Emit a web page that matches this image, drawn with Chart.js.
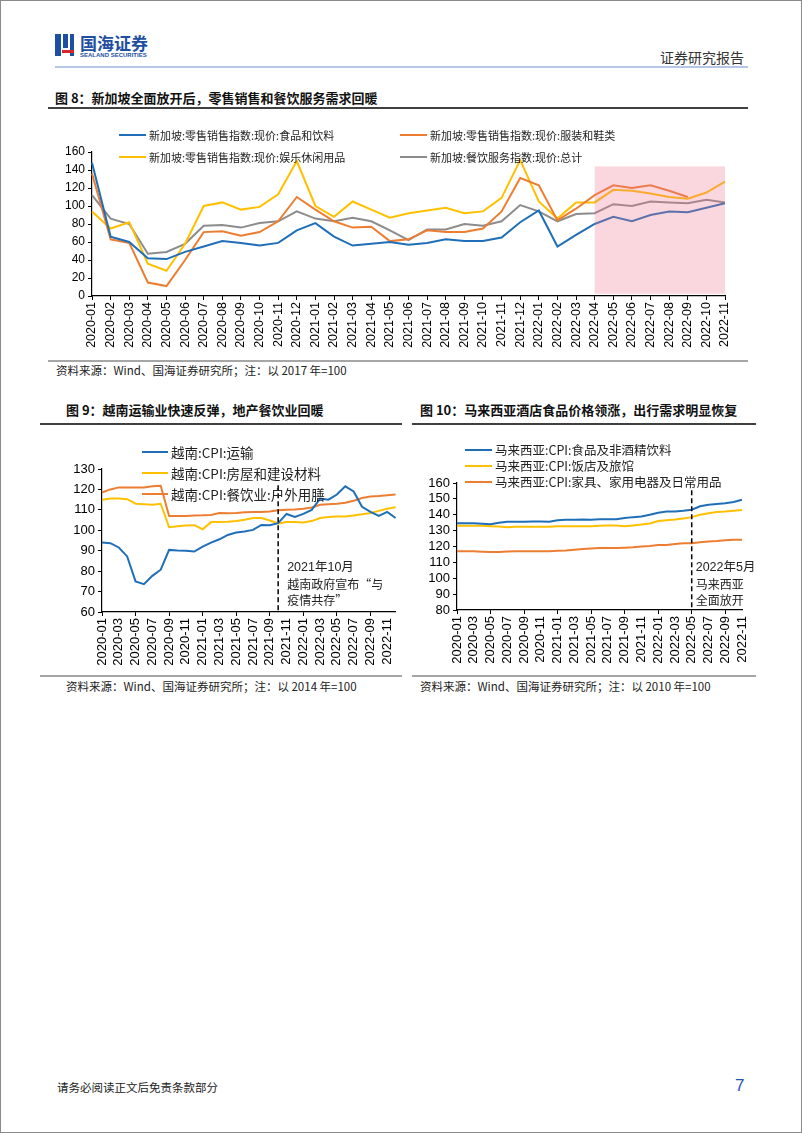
<!DOCTYPE html>
<html><head><meta charset="utf-8">
<script src="https://cdn.jsdelivr.net/npm/chart.js@4.4.0/dist/chart.umd.min.js"></script>
<style>
html,body{margin:0;padding:0;background:#fff;}
body{width:802px;height:1133px;position:relative;overflow:hidden;font-family:"Noto Sans CJK SC",sans-serif;color:#222;}
#frame{position:absolute;left:0;top:0;width:800px;height:1131px;border:1px solid #8a8a8a;}
.abs{position:absolute;white-space:nowrap;}
.hr{position:absolute;}
.title{position:absolute;font-weight:700;font-size:13px;color:#111;white-space:nowrap;line-height:16px;}
.src{position:absolute;font-size:11.5px;color:#222;white-space:nowrap;line-height:14px;}
canvas{position:absolute;}
</style></head>
<body>
<div id="frame"></div>
<!-- header -->
<div class="abs" style="left:55px;top:34px;width:6px;height:22px;background:#1e4fa0;"></div>
<div class="abs" style="left:63px;top:34px;width:5px;height:14px;background:#1e4fa0;"></div>
<div class="abs" style="left:70px;top:34px;width:4px;height:22px;background:#1e4fa0;"></div>
<div class="abs" style="left:62px;top:50px;width:12px;height:3px;background:#d9262b;"></div>
<div class="abs" style="left:80px;top:33px;font-size:17px;font-weight:700;color:#1e4fa0;line-height:20px;">国海证券</div>
<div class="abs" style="left:80px;top:52px;font-size:6px;font-weight:700;color:#1e4fa0;line-height:7px;font-family:'Liberation Sans',sans-serif;">SEALAND SECURITIES</div>
<div class="abs" style="left:660px;top:48px;font-size:14px;color:#333;line-height:18px;">证券研究报告</div>
<div class="hr" style="left:55px;top:66px;width:693px;height:2px;background:#b4c7e7;"></div>

<div class="title" style="left:55px;top:90px;">图 8：新加坡全面放开后，零售销售和餐饮服务需求回暖</div>
<div class="hr" style="left:48px;top:107px;width:700px;height:2px;background:#404040;"></div>
<canvas id="c8" width="700" height="240" style="left:48px;top:120px;"></canvas>
<div class="hr" style="left:48px;top:360px;width:700px;height:2px;background:#a6a6a6;"></div>
<div class="src" style="left:56px;top:363px;">资料来源：Wind、国海证券研究所；注：以 2017 年=100</div>

<div class="title" style="left:66px;top:402px;">图 9：越南运输业快速反弹，地产餐饮业回暖</div>
<div class="hr" style="left:40px;top:423px;width:362px;height:2px;background:#404040;"></div>
<div class="title" style="left:420px;top:402px;">图 10：马来西亚酒店食品价格领涨，出行需求明显恢复</div>
<div class="hr" style="left:412px;top:423px;width:344px;height:2px;background:#404040;"></div>
<canvas id="c9" width="365" height="245" style="left:40px;top:430px;"></canvas>
<canvas id="c10" width="350" height="245" style="left:410px;top:430px;"></canvas>
<div class="hr" style="left:40px;top:675px;width:362px;height:2px;background:#a6a6a6;"></div>
<div class="hr" style="left:412px;top:675px;width:344px;height:2px;background:#a6a6a6;"></div>
<div class="src" style="left:66px;top:679px;">资料来源：Wind、国海证券研究所；注：以 2014 年=100</div>
<div class="src" style="left:420px;top:679px;">资料来源：Wind、国海证券研究所；注：以 2010 年=100</div>

<div class="abs" style="left:57px;top:1079px;font-size:11.5px;color:#222;line-height:16px;">请务必阅读正文后免责条款部分</div>
<div class="abs" style="left:735px;top:1076px;font-size:17px;color:#1f56b0;line-height:20px;font-family:'Liberation Sans',sans-serif;">7</div>

<script>
// ---------- Figure 8 data ----------
const sgMonths = ["2020-01","2020-02","2020-03","2020-04","2020-05","2020-06","2020-07","2020-08","2020-09","2020-10","2020-11","2020-12",
"2021-01","2021-02","2021-03","2021-04","2021-05","2021-06","2021-07","2021-08","2021-09","2021-10","2021-11","2021-12",
"2022-01","2022-02","2022-03","2022-04","2022-05","2022-06","2022-07","2022-08","2022-09","2022-10","2022-11"];
const sgNames = ["新加坡:零售销售指数:现价:食品和饮料","新加坡:零售销售指数:现价:服装和鞋类","新加坡:零售销售指数:现价:娱乐休闲用品","新加坡:餐饮服务指数:现价:总计"];
const sgFood    = [148,66,60,42,41,49,55,61,59,56,59,73, 81,66,56,58,60,57,59,63,61,61,65,82, 95,55,68,80,88,83,90,94,93,98,103];
const sgApparel = [136,63,59,15,11,40,71,72,67,71,83,110, 96,83,76,77,61,63,73,71,71,75,94,131, 123,84,97,112,123,120,123,117,110,null,null];
const sgLeisure = [94,75,82,36,28,58,100,104,96,99,113,150, 100,88,105,96,87,92,95,98,92,94,109,151, 105,86,104,104,118,117,114,110,108,115,127];
const sgFnb     = [112,86,80,47,49,58,78,79,76,81,83,94, 86,83,87,83,73,62,74,74,80,78,83,101, 94,83,91,92,102,100,105,104,103,107,104];
const sgShadeFrom = "2022-04", sgShadeTo = "2022-11", sgShadeTop = 144;

// ---------- Figure 9 data ----------
const vnMonths = ["2020-01","2020-02","2020-03","2020-04","2020-05","2020-06","2020-07","2020-08","2020-09","2020-10","2020-11","2020-12",
"2021-01","2021-02","2021-03","2021-04","2021-05","2021-06","2021-07","2021-08","2021-09","2021-10","2021-11","2021-12",
"2022-01","2022-02","2022-03","2022-04","2022-05","2022-06","2022-07","2022-08","2022-09","2022-10","2022-11","2022-12"];
const vnNames = ["越南:CPI:运输","越南:CPI:房屋和建设材料","越南:CPI:餐饮业:户外用膳"];
const vnTransport = [94,93.7,91.6,87.2,75,73.6,77.7,80.7,90.4,90.1,90,89.6, 92,94,95.6,97.7,98.9,99.4,100.2,102.6,102.5,103.5, 108,106.5,108,110,115.5,115,117.5,121.5,119,111.5,109,107,109,106];
const vnHousing   = [115,115.5,115.5,115.2,113,112.8,112.5,113,101.5,102,102.3,102.5, 100.5,104,104,104.2,104.5,105.2,106,106,104.8, 103.3,104,104,103.8,104.5,106,106.5,106.8,106.8,107.2,107.8,108.5,109.5,110.5,111.3];
const vnDining    = [118.5,120,121,121,121,121,121.5,121.8,107,107,107,107.2, 107.3,107.5,108.5,108.3,108.5,108.8,109,109,109.2,109.8, 110,110.2,110.5,111.2,112.5,112.8,113,113.5,114.5,115.8,116.5,116.8,117.2,117.5];
const vnEventMonth = "2021-10";
const vnNote = ["2021年10月","越南政府宣布“与","疫情共存”"];

// ---------- Figure 10 data ----------
const myMonths = ["2020-01","2020-02","2020-03","2020-04","2020-05","2020-06","2020-07","2020-08","2020-09","2020-10","2020-11","2020-12",
"2021-01","2021-02","2021-03","2021-04","2021-05","2021-06","2021-07","2021-08","2021-09","2021-10","2021-11","2021-12",
"2022-01","2022-02","2022-03","2022-04","2022-05","2022-06","2022-07","2022-08","2022-09","2022-10","2022-11"];
const myNames = ["马来西亚:CPI:食品及非酒精饮料","马来西亚:CPI:饭店及旅馆","马来西亚:CPI:家具、家用电器及日常用品"];
const myFood = [134.7,134.7,134.7,134.3,134,135,135.6,135.6,135.6,135.8,135.8,135.6, 136.6,136.8,136.8,137,136.8,137.2,137.2,137.2,137.9,138.5,138.9,140, 141.3,142.1,142.1,142.5,143.2,145.3,146.3,146.7,147.2,148,149.5];
const myRest = [133,133,133,133,132.8,132.6,132.2,132.4,132.5,132.5,132.5,132.5, 132.7,132.8,132.8,132.8,132.8,133,133.2,133.2,132.8,133.3,133.8,134.5, 136,136.5,137,137.7,138.5,140,141,141.7,142,142.5,143];
const myHome = [117,117,117,116.7,116.5,116.6,116.8,117,117,117,117,117, 117.3,117.5,118,118.4,118.8,119,119,119,119.2,119.5,120,120.3, 121,121,121.5,122,122,122.7,123.2,123.5,124,124.2,124.2];
const myEventMonth = "2022-05";
const myNote = ["2022年5月","马来西亚","全面放开"];

// ---------- styling ----------
const BLUE = "#1f6fb8", ORANGE = "#ed7d31", YELLOW = "#ffc000", GRAY = "#8c8c8c";
const NUMFONT = "'Liberation Sans', Arial, sans-serif";
const CJK = "'Noto Sans CJK SC', sans-serif";

function ds(label, data, color){
  return {label, data, borderColor: color, backgroundColor: color, borderWidth: 2,
    pointRadius: 0, tension: 0, spanGaps: false};
}

function overlay(cfg){
  return {
    id: 'overlay_' + Math.random().toString(36).slice(2),
    afterDatasetsDraw(chart){
      const ctx = chart.ctx, xs = chart.scales.x, ys = chart.scales.y;
      if (cfg.shade){
        const x1 = xs.getPixelForValue(cfg.shade.from), x2 = xs.getPixelForValue(cfg.shade.to);
        const y1 = ys.getPixelForValue(cfg.shade.top), y2 = ys.getPixelForValue(cfg.shade.bottom);
        ctx.save(); ctx.fillStyle = 'rgba(238,122,145,0.3)';
        ctx.fillRect(x1, y1, x2 - x1, y2 - y1); ctx.restore();
      }
      if (cfg.vline){
        const x = xs.getPixelForValue(cfg.vline.at);
        ctx.save(); ctx.strokeStyle = '#000'; ctx.lineWidth = 1.5; ctx.setLineDash([5,3]);
        ctx.beginPath(); ctx.moveTo(x, ys.getPixelForValue(cfg.vline.top)); ctx.lineTo(x, chart.chartArea.bottom); ctx.stroke();
        ctx.restore();
        if (cfg.note){
          ctx.save(); ctx.fillStyle = '#222'; ctx.textBaseline = 'middle'; ctx.textAlign = 'left';
          cfg.note.lines.forEach((t, i) => {
            ctx.font = (i === 0 ? cfg.note.firstFont : cfg.note.font);
            ctx.fillText(t, x + cfg.note.dx, cfg.note.y0 + i * cfg.note.dy);
          });
          ctx.restore();
        }
      }
    },
    afterDraw(chart){
      const ctx = chart.ctx;
      const L = cfg.legend;
      ctx.save();
      chart.data.datasets.forEach((d, i) => {
        const p = L.pos[i];
        ctx.strokeStyle = d.borderColor; ctx.lineWidth = 2;
        ctx.beginPath(); ctx.moveTo(p[0], p[1]); ctx.lineTo(p[0] + L.lineLen, p[1]); ctx.stroke();
        ctx.fillStyle = '#222'; ctx.font = L.font; ctx.textBaseline = 'middle'; ctx.textAlign = 'left';
        ctx.fillText(d.label, p[0] + L.lineLen + L.gap, p[1] + 0.5);
      });
      ctx.restore();
    }
  };
}

function makeChart(id, labels, datasets, o){
  const tickColorX = o.everyOther ? (c => (c.index % 2 === 0 ? '#000' : 'rgba(0,0,0,0)')) : '#000';
  return new Chart(document.getElementById(id), {
    type: 'line',
    data: {labels, datasets},
    options: {
      responsive: false, animation: false, devicePixelRatio: 1,
      layout: {padding: {left: 0, right: o.padRight, top: o.padTop, bottom: 0}},
      plugins: {legend: {display: false}, tooltip: {enabled: false}},
      scales: {
        x: {
          type: 'category', offset: false,
          grid: {display: true, drawOnChartArea: false, drawTicks: true, tickLength: 4, color: tickColorX, lineWidth: 1},
          border: {display: true, color: '#000', width: 1.2},
          ticks: {autoSkip: false, minRotation: 90, maxRotation: 90, padding: 2, color: '#000',
            font: {family: NUMFONT, size: o.xFont},
            callback: function(v, i){ return (o.everyOther && i % 2 !== 0) ? null : this.getLabelForValue(v); }},
          afterFit(s){ s.height = o.xHeight; }
        },
        y: {
          min: o.yMin, max: o.yMax,
          grid: {display: true, drawOnChartArea: false, drawTicks: true, tickLength: 4, color: '#000'},
          border: {display: true, color: '#000', width: 1.2},
          ticks: {stepSize: o.yStep, autoSkip: false, padding: 3, color: '#000', font: {family: NUMFONT, size: o.yFont}},
          afterFit(s){ s.width = o.yWidth; }
        }
      }
    },
    plugins: [overlay(o.overlay)]
  });
}

// Figure 8
makeChart('c8', sgMonths, [
  ds(sgNames[0], sgFood, BLUE),
  ds(sgNames[1], sgApparel, ORANGE),
  ds(sgNames[2], sgLeisure, YELLOW),
  ds(sgNames[3], sgFnb, GRAY)
], {padRight: 23, padTop: 32, xHeight: 64, yWidth: 44, yMin: 0, yMax: 160, yStep: 20, xFont: 12.5, yFont: 12,
  overlay: {
    shade: {from: sgMonths.indexOf(sgShadeFrom), to: sgMonths.indexOf(sgShadeTo), top: sgShadeTop, bottom: 2.5},
    legend: {pos: [[71,15],[352,15],[71,37],[352,37]], lineLen: 27, gap: 3, font: "11px " + CJK}
  }});

// Figure 9
makeChart('c9', vnMonths, [
  ds(vnNames[0], vnTransport, BLUE),
  ds(vnNames[1], vnHousing, YELLOW),
  ds(vnNames[2], vnDining, ORANGE)
], {padRight: 7, padTop: 39, xHeight: 63, yWidth: 62, yMin: 60, yMax: 130, yStep: 10, xFont: 13, yFont: 13, everyOther: true,
  overlay: {
    vline: {at: vnMonths.indexOf(vnEventMonth), top: 122},
    note: {lines: vnNote, dx: 9, y0: 138, dy: 16, firstFont: "12.5px " + NUMFONT + ", " + CJK, font: "12px " + CJK},
    legend: {pos: [[102,22],[102,43],[102,64]], lineLen: 26, gap: 3, font: "13.5px " + CJK}
  }});

// Figure 10
makeChart('c10', myMonths, [
  ds(myNames[0], myFood, BLUE),
  ds(myNames[1], myRest, YELLOW),
  ds(myNames[2], myHome, ORANGE)
], {padRight: 18, padTop: 53, xHeight: 65, yWidth: 47, yMin: 80, yMax: 160, yStep: 10, xFont: 13, yFont: 13, everyOther: true,
  overlay: {
    vline: {at: myMonths.indexOf(myEventMonth), top: 155.5},
    note: {lines: myNote, dx: 4, y0: 138, dy: 16, firstFont: "12.5px " + NUMFONT + ", " + CJK, font: "12px " + CJK},
    legend: {pos: [[55,20],[55,36],[55,52]], lineLen: 27, gap: 3, font: "12.5px " + CJK}
  }});
</script>
</body></html>
